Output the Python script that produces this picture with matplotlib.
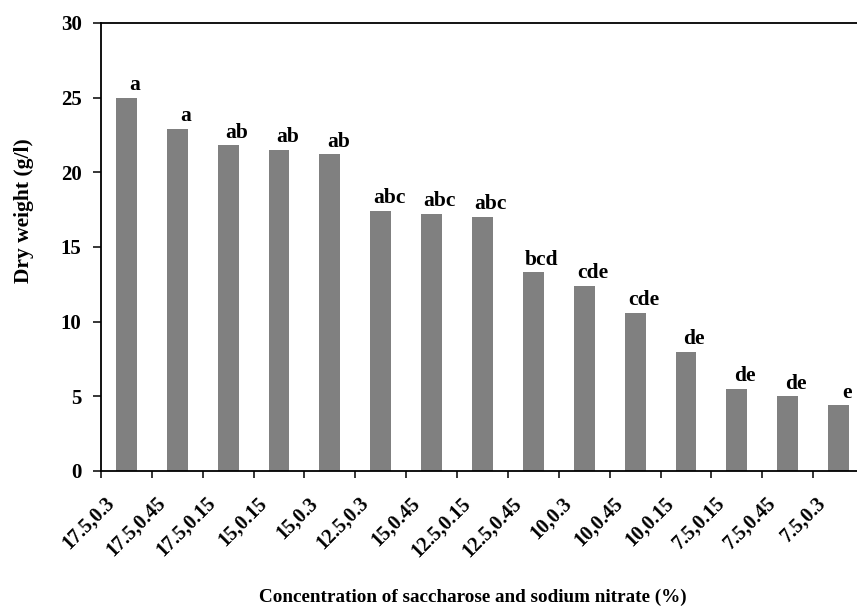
import matplotlib
matplotlib.use("Agg")
import matplotlib.pyplot as plt
import matplotlib.transforms as mtransforms
import numpy as np

categories = ["17.5,0.3", "17.5,0.45", "17.5,0.15", "15,0.15", "15,0.3",
              "12.5,0.3", "15,0.45", "12.5,0.15", "12.5,0.45", "10,0.3",
              "10,0.45", "10,0.15", "7.5,0.15", "7.5,0.45", "7.5,0.3"]
dry_weight = [25.0, 22.9, 21.8, 21.5, 21.2, 17.4, 17.2, 17.0, 13.3, 12.4,
              10.6, 8.0, 5.5, 5.0, 4.4]
letters = ["a", "a", "ab", "ab", "ab", "abc", "abc", "abc", "bcd", "cde",
           "cde", "de", "de", "de", "e"]
y_ticks = [0, 5, 10, 15, 20, 25, 30]

plt.rcParams['font.family'] = ['Liberation Serif', 'DejaVu Serif']
plt.rcParams['font.weight'] = 'bold'

W, H = 857, 608
fig = plt.figure(figsize=(W / 100, H / 100), dpi=100)
ax = fig.add_axes([101 / W, 1 - 471 / H, (864 - 101) / W, (471 - 23) / H])

x = np.arange(len(categories))
ax.bar(x, dry_weight, width=0.41, color="#808080", zorder=2)

ax.set_xlim(-0.5, len(categories) - 0.5)
ax.set_ylim(0, 30)
ax.set_yticks(y_ticks)
ax.set_yticklabels([str(v) for v in y_ticks], fontsize=15, fontweight='bold')

# major ticks at category boundaries, labels at centers
ax.set_xticks(np.arange(len(categories) + 1) - 0.5)
ax.set_xticklabels([])
ax.set_xticks(x, minor=True)
ax.set_xticklabels(categories, minor=True, rotation=45, ha='right',
                   fontsize=14.5, fontweight='bold')
ax.tick_params(axis='x', which='major', direction='out', length=5, width=1.1)
ax.tick_params(axis='x', which='minor', length=0, pad=16)
ax.tick_params(axis='y', direction='out', length=6, width=1.1, pad=8)

offset = mtransforms.ScaledTranslation(-8 / 100, 0, fig.dpi_scale_trans)
for lab in ax.get_xticklabels(minor=True):
    lab.set_transform(lab.get_transform() + offset)

for sp in ['left', 'bottom', 'top']:
    ax.spines[sp].set_linewidth(1.3)
    ax.spines[sp].set_color('black')
ax.spines['right'].set_visible(False)

for xi, v, t in zip(x, dry_weight, letters):
    ax.annotate(t, (xi, v), xytext=(6, 2), textcoords='offset points',
                ha='center', va='bottom', fontsize=15.5, fontweight='bold')

fig.text(24 / W, 1 - 211 / H, "Dry weight (g/l)", rotation=90,
         ha='center', va='center', fontsize=15.5, fontweight='bold')
fig.text(473 / W, 1 - 602 / H, "Concentration of saccharose and sodium nitrate (%)",
         ha='center', va='baseline', fontsize=13.8, fontweight='bold')

fig.savefig("out.png", dpi=100)
